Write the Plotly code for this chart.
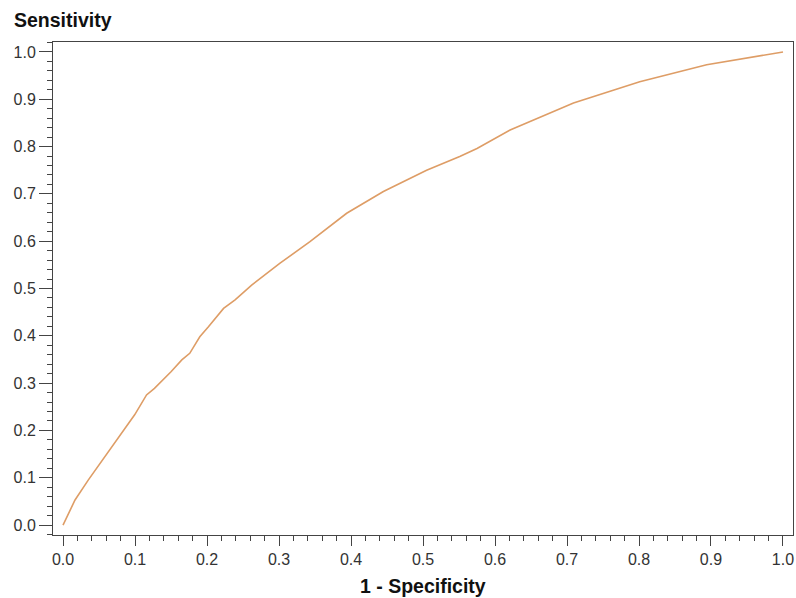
import plotly.graph_objects as go

# ROC curve values
fpr = [0.0, 0.0167, 0.035, 0.058, 0.0815, 0.0995, 0.116, 0.127, 0.150, 0.165, 0.176,
       0.190, 0.202, 0.223, 0.239, 0.262, 0.301, 0.343, 0.394, 0.445, 0.505, 0.551,
       0.575, 0.621, 0.709, 0.801, 0.894, 0.950, 1.0]
tpr = [0.0, 0.053, 0.095, 0.144, 0.194, 0.233, 0.275, 0.289, 0.324, 0.349, 0.363,
       0.398, 0.419, 0.458, 0.476, 0.507, 0.553, 0.599, 0.659, 0.705, 0.750, 0.779,
       0.796, 0.835, 0.892, 0.937, 0.973, 0.988, 1.0]

tick_vals = [0.0, 0.1, 0.2, 0.3, 0.4, 0.5, 0.6, 0.7, 0.8, 0.9, 1.0]
tick_text = ["0.0", "0.1", "0.2", "0.3", "0.4", "0.5", "0.6", "0.7", "0.8", "0.9", "1.0"]

x_title = "1 - Specificity"
y_title = "Sensitivity"

FONT = "Liberation Sans, Arial, sans-serif"
FRAME = "#444444"

fig = go.Figure()
fig.add_trace(go.Scatter(x=fpr, y=tpr, mode="lines",
                         line=dict(color="#DE9D66", width=1.6), showlegend=False,
                         hoverinfo="x+y"))

def axis_style(major_len):
    return dict(
        showgrid=False, zeroline=False,
        showline=True, linecolor=FRAME, linewidth=1, mirror=True,
        ticks="outside", ticklen=major_len, tickwidth=1, tickcolor=FRAME,
        tickvals=tick_vals, ticktext=tick_text,
        tickfont=dict(family=FONT, size=16, color="#333333"),
        minor=dict(dtick=0.02, tick0=0, ticks="outside", ticklen=5, tickwidth=1,
                   tickcolor=FRAME, showgrid=False),
    )

fig.update_xaxes(range=[-0.0139, 1.0139], **axis_style(10))
fig.update_yaxes(range=[-0.021, 1.021], **axis_style(13))

fig.update_layout(
    width=796, height=598,
    margin=dict(l=53, r=3, t=42, b=63),
    paper_bgcolor="white", plot_bgcolor="white",
    font=dict(family=FONT),
    annotations=[
        dict(text="<b>" + y_title + "</b>", xref="paper", yref="paper",
             x=-0.055, y=1.0446, xanchor="left", yanchor="middle", showarrow=False,
             font=dict(family=FONT, size=19.5, color="#111111")),
        dict(text="<b>" + x_title + "</b>", xref="paper", yref="paper",
             x=0.5, y=-0.1034, xanchor="center", yanchor="middle", showarrow=False,
             font=dict(family=FONT, size=19.5, color="#111111")),
    ],
)

fig.write_html("out.html")
